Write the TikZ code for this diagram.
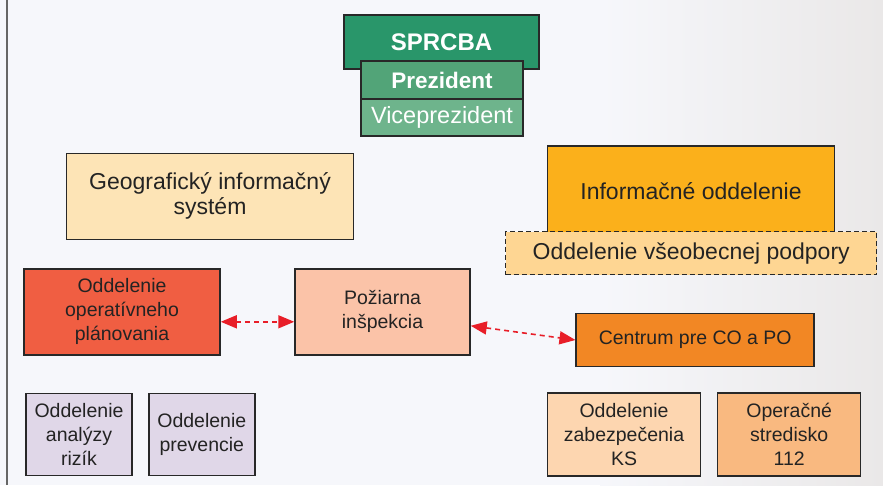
\documentclass[tikz,border=0pt]{standalone}
\usepackage{fontspec}
\setmainfont{Liberation Sans}
\usetikzlibrary{arrows.meta}

\definecolor{bgcol}{RGB}{246,247,251}
\definecolor{bgright}{RGB}{234,232,232}
\definecolor{boxline}{RGB}{40,40,40}
\definecolor{textc}{RGB}{35,35,35}
\definecolor{greenA}{RGB}{41,150,106}
\definecolor{greenB}{RGB}{82,164,120}
\definecolor{greenC}{RGB}{110,180,140}
\definecolor{gisfill}{RGB}{253,228,182}
\definecolor{infofill}{RGB}{251,176,27}
\definecolor{podfill}{RGB}{254,214,147}
\definecolor{centfill}{RGB}{242,135,36}
\definecolor{planfill}{RGB}{240,94,66}
\definecolor{pozfill}{RGB}{251,195,168}
\definecolor{lavfill}{RGB}{224,215,232}
\definecolor{ksfill}{RGB}{253,214,176}
\definecolor{opsfill}{RGB}{249,185,128}
\definecolor{arrowred}{RGB}{232,30,40}

\tikzset{
	orgbox/.style={draw=boxline,line width=1.5pt,inner sep=0pt,align=center,text=textc},
	bigtext/.style={font=\fontsize{23}{25}\selectfont},
	smalltext/.style={font=\fontsize{19.5}{24}\selectfont},
	link/.style={draw=arrowred,line width=1.6pt,dash pattern=on 5pt off 4pt,
		{Triangle[length=16pt,width=13pt]}-{Triangle[length=16pt,width=13pt]}}
}

\begin{document}
\begin{tikzpicture}[x=1pt,y=1pt]

\useasboundingbox (0,0) rectangle (883,485);
\fill[bgcol] (0,0) rectangle (883,485);
\shade[left color=bgcol,right color=bgright] (600,0) rectangle (883,485);
\draw[line width=2pt,color=black!60] (6.5,0) -- (6.5,485);

\node[orgbox,fill=greenA,minimum width=195pt,minimum height=54pt,text=white,
	font=\fontsize{24}{26}\selectfont\bfseries] (sprcba) at (441.5,443) {SPRCBA};
\node[orgbox,fill=greenB,minimum width=162pt,minimum height=38pt,text=white,
	font=\fontsize{22.5}{24}\selectfont\bfseries] (prezident) at (442,404.8) {Prezident};
\node[orgbox,fill=greenC,minimum width=162pt,minimum height=37pt,text=white,
	font=\fontsize{23.5}{25}\selectfont] (viceprezident) at (442,367.3) {Viceprezident};

\node[orgbox,bigtext,fill=gisfill,minimum width=287pt,minimum height=86pt] (gis) at (210,288.7)
	{Geografický informačný\\systém};
\node[orgbox,bigtext,fill=infofill,minimum width=287pt,minimum height=90pt] (info) at (691,294)
	{Informačné oddelenie};
\node[orgbox,bigtext,fill=podfill,dash pattern=on 5pt off 3pt,minimum width=371pt,minimum height=43pt]
	(podpora) at (691.2,231.8) {Oddelenie všeobecnej podpory};

\node[orgbox,smalltext,fill=planfill,minimum width=196pt,minimum height=86pt] (planovanie) at (122,173.2)
	{Oddelenie\\operatívneho\\plánovania};
\node[orgbox,smalltext,fill=pozfill,minimum width=175pt,minimum height=86pt] (inspekcia) at (382.5,173.2)
	{Požiarna\\inšpekcia};
\node[orgbox,smalltext,fill=centfill,minimum width=238pt,minimum height=53pt] (centrum) at (695.2,145)
	{Centrum pre CO a PO};

\node[orgbox,smalltext,fill=lavfill,minimum width=106pt,minimum height=82pt] (analyza) at (79,50.5)
	{Oddelenie\\analýzy\\rizík};
\node[orgbox,smalltext,fill=lavfill,minimum width=106pt,minimum height=82pt] (prevencia) at (201.8,50.5)
	{Oddelenie\\prevencie};
\node[orgbox,smalltext,fill=ksfill,minimum width=153pt,minimum height=83pt] (zabezpecenie) at (624,50.3)
	{Oddelenie\\zabezpečenia\\KS};
\node[orgbox,smalltext,fill=opsfill,minimum width=143pt,minimum height=83pt] (stredisko) at (789.2,50.3)
	{Operačné\\stredisko\\112};

\draw[link] ([yshift=-10pt]planovanie.east) -- ([yshift=-10pt]inspekcia.west);
\draw[link] ([yshift=-14pt]inspekcia.east) -- (centrum.west);
\end{tikzpicture}
\end{document}
